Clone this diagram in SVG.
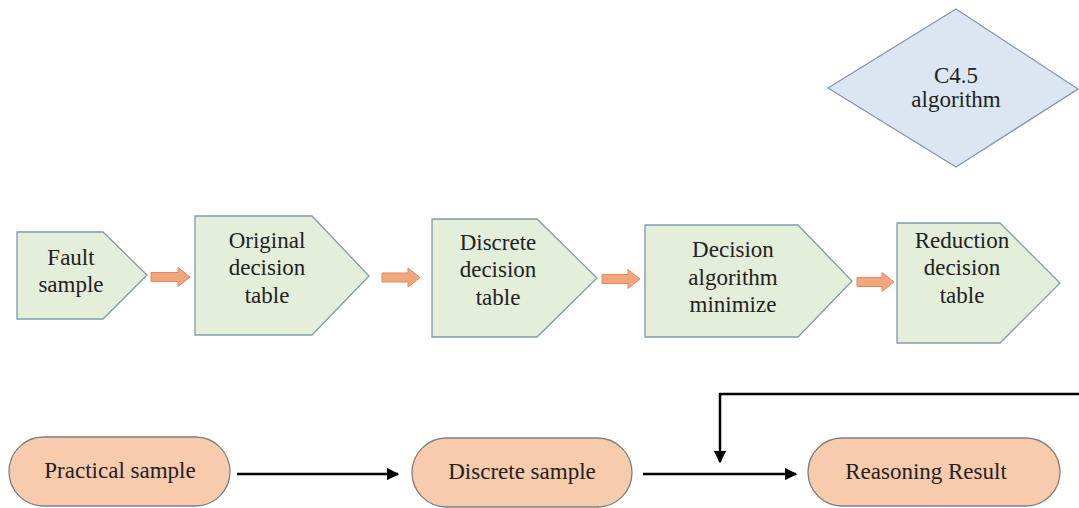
<svg xmlns="http://www.w3.org/2000/svg" width="1079" height="508" viewBox="0 0 1079 508">
  <style>
    .step { fill: #e3eedb; stroke: #7f9cab; stroke-width: 1.3; }
    .algo { fill: #dce6f2; stroke: #8498ae; stroke-width: 1.3; }
    .pill { fill: #f8cbad; stroke: #7f7f7f; stroke-width: 1.3; }
    .flow { fill: #f3a67c; stroke: #e08a5e; stroke-width: 1; }
    .wire { fill: none; stroke: #000; stroke-width: 2.5; }
    .lbl { font-family: 'Liberation Serif', 'DejaVu Serif', serif; font-size: 23px; fill: #222; text-anchor: middle; }
  </style>
  <defs>
    <marker id="head" viewBox="0 0 10 10" refX="9" refY="5" markerWidth="5" markerHeight="5" markerUnits="strokeWidth" orient="auto">
      <path d="M0,0 L10,5 L0,10 z" fill="#000"/>
    </marker>
  </defs>
  <rect width="1079" height="508" fill="#fff"/>

  <!-- upper process chain -->
  <g id="fault-sample">
    <path class="step" d="M17,232 H103 L147,275 L103,319 H17 Z"/>
    <text class="lbl" font-family="Liberation Serif, serif" x="71" y="265">Fault</text>
    <text class="lbl" font-family="Liberation Serif, serif" x="71" y="292">sample</text>
  </g>
  <g id="original-table">
    <path class="step" d="M195,216 H312 L369,276 L312,335 H195 Z"/>
    <text class="lbl" font-family="Liberation Serif, serif" x="267" y="248">Original</text>
    <text class="lbl" font-family="Liberation Serif, serif" x="267" y="275">decision</text>
    <text class="lbl" font-family="Liberation Serif, serif" x="267" y="303">table</text>
  </g>
  <g id="discrete-table">
    <path class="step" d="M432,219 H537 L597,278 L537,337 H432 Z"/>
    <text class="lbl" font-family="Liberation Serif, serif" x="498" y="250">Discrete</text>
    <text class="lbl" font-family="Liberation Serif, serif" x="498" y="277">decision</text>
    <text class="lbl" font-family="Liberation Serif, serif" x="498" y="305">table</text>
  </g>
  <g id="decision-minimize">
    <path class="step" d="M645,225 H798 L852,281 L798,337 H645 Z"/>
    <text class="lbl" font-family="Liberation Serif, serif" x="733" y="257">Decision</text>
    <text class="lbl" font-family="Liberation Serif, serif" x="733" y="285">algorithm</text>
    <text class="lbl" font-family="Liberation Serif, serif" x="733" y="312">minimize</text>
  </g>
  <g id="reduction-table">
    <path class="step" d="M897,223 H1000 L1060,283 L1000,343 H897 Z"/>
    <text class="lbl" font-family="Liberation Serif, serif" x="962" y="248">Reduction</text>
    <text class="lbl" font-family="Liberation Serif, serif" x="962" y="275">decision</text>
    <text class="lbl" font-family="Liberation Serif, serif" x="962" y="303">table</text>
  </g>
  <g id="c45">
    <path class="algo" d="M956,9 L1078,89 L956,167 L828,88 Z"/>
    <text class="lbl" font-family="Liberation Serif, serif" x="956" y="83">C4.5</text>
    <text class="lbl" font-family="Liberation Serif, serif" x="956" y="107">algorithm</text>
  </g>

  <!-- lower inference chain -->
  <g id="practical-sample">
    <rect class="pill" x="9" y="437" width="221" height="69" rx="34.5"/>
    <text class="lbl" font-family="Liberation Serif, serif" x="120" y="478">Practical sample</text>
  </g>
  <g id="discrete-sample">
    <rect class="pill" x="412" y="438" width="220" height="69" rx="34.5"/>
    <text class="lbl" font-family="Liberation Serif, serif" x="522" y="479">Discrete sample</text>
  </g>
  <g id="reasoning-result">
    <rect class="pill" x="808" y="438" width="252" height="68" rx="34"/>
    <text class="lbl" font-family="Liberation Serif, serif" x="926" y="479">Reasoning Result</text>
  </g>

  <g id="connectors">
    <!-- block arrows between the steps -->
    <path class="flow" d="M151,272.5 H178 V267.5 L190,277 L178,286.5 V281.5 H151 Z"/>
    <path class="flow" d="M382,273 H408 V268 L420,277.5 L408,287 V282 H382 Z"/>
    <path class="flow" d="M602,274.5 H628 V269.5 L640,279 L628,288.5 V283.5 H602 Z"/>
    <path class="flow" d="M857,277.5 H882 V272.5 L894,282 L882,291.5 V286.5 H857 Z"/>
    <!-- sample flow -->
    <line class="wire" x1="237" y1="474" x2="398" y2="474" marker-end="url(#head)"/>
    <line class="wire" x1="643" y1="474" x2="796" y2="474" marker-end="url(#head)"/>
    <path class="wire" d="M1080,394 H720 V462" marker-end="url(#head)"/>
  </g>
</svg>
